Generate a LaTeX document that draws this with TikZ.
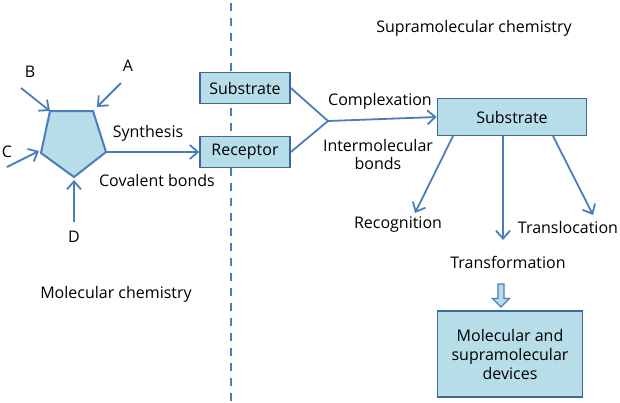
\documentclass[tikz,border=0pt]{standalone}
\usepackage{fontspec}
\setmainfont{Open Sans}
\usetikzlibrary{positioning,shapes.arrows,arrows.meta}
\definecolor{lineblue}{HTML}{4A7EBB}
\definecolor{boxblue}{HTML}{B7DEE8}
\definecolor{edgeblue}{HTML}{3C6A9C}

\begin{document}
\begin{tikzpicture}[x=1pt,y=-1pt]
        \tikzstyle{every node}=[font=\fontsize{16}{18}\selectfont, inner sep=1pt]
        \tikzstyle{box}=[draw=edgeblue, fill=boxblue, line width=1.6pt]
        \tikzstyle{link}=[lineblue, line width=1.8pt]
        \tikzstyle{arrow}=[link, -{Straight Barb[length=8pt,width=14pt]}]

        \useasboundingbox (0,0) rectangle (620,402);

        % divider
        \draw[lineblue, line width=2pt, dash pattern=on 8pt off 7pt] (231,3) -- (231,402);

        % molecule
        \coordinate (tl) at (50,111);
        \coordinate (tr) at (93,111);
        \coordinate (rt) at (106,152);
        \coordinate (bt) at (74,177);
        \coordinate (lf) at (41,153);
        \draw[box, draw=lineblue, line width=2pt] (tl) -- (tr) -- (rt) -- (bt) -- (lf) -- cycle;

        \node (A) at (128,66) {A};
        \node (B) at (30,72) {B};
        \node (C) at (7,152) {C};
        \node (D) at (74,237) {D};
        \coordinate (a0) at (121,83);
        \coordinate (b0) at (21,88);
        \coordinate (c0) at (7,167);
        \coordinate (d0) at (74,222);
        \draw[arrow] (a0) -- (97,107);
        \draw[arrow] (b0) -- (tl);
        \draw[arrow] (c0) -- (39,151);
        \draw[arrow] (d0) -- (74,180);

        % boxes
        \node[box, minimum width=90pt, minimum height=31pt] (sub1) at (245,88) {Substrate};
        \node[box, minimum width=90pt, minimum height=31pt] (rec) at (245,152) {Receptor};
        \node[box, minimum width=149pt, minimum height=37pt] (sub2) at (512,117) {Substrate};
        \node[box, minimum width=145pt, minimum height=86pt, align=center,
              font=\fontsize{16}{19}\selectfont] (dev) at (510,354)
            {Molecular and\\supramolecular\\devices};

        \draw[arrow] (rt) -- (rec.west);
        \node (syn) at (148,133) {Synthesis};
        \node (cov) at (157,180) {Covalent bonds};

        \coordinate (join) at (328,121);
        \draw[link] (sub1.east) -- (join) -- (rec.east);
        \draw[arrow] (join) -- (sub2.west);
        \node (cpx) at (380,101) {Complexation};
        \node[align=center] (inter) at (378,154) {Intermolecular\\bonds};

        % outcomes
        \coordinate (r1) at (415,213);
        \coordinate (t1) at (503,240);
        \coordinate (l1) at (593,215);
        \draw[arrow] (453,136) -- (r1);
        \draw[arrow] (503,136) -- (t1);
        \draw[arrow] (553,136) -- (l1);
        \node (recog) at (398,225) {Recognition};
        \node (transf) at (508,262) {Transformation};
        \node (transl) at (568,227) {Translocation};

        \node[single arrow, draw=lineblue, fill=boxblue, line width=1.2pt, shape border rotate=270,
              minimum width=17pt, minimum height=23pt, single arrow head extend=3pt, inner sep=1pt]
              (down) at (501,294) {};

        \node (supra) at (474,28) {Supramolecular chemistry};
        \node (mol) at (116,294) {Molecular chemistry};
\end{tikzpicture}
\end{document}
